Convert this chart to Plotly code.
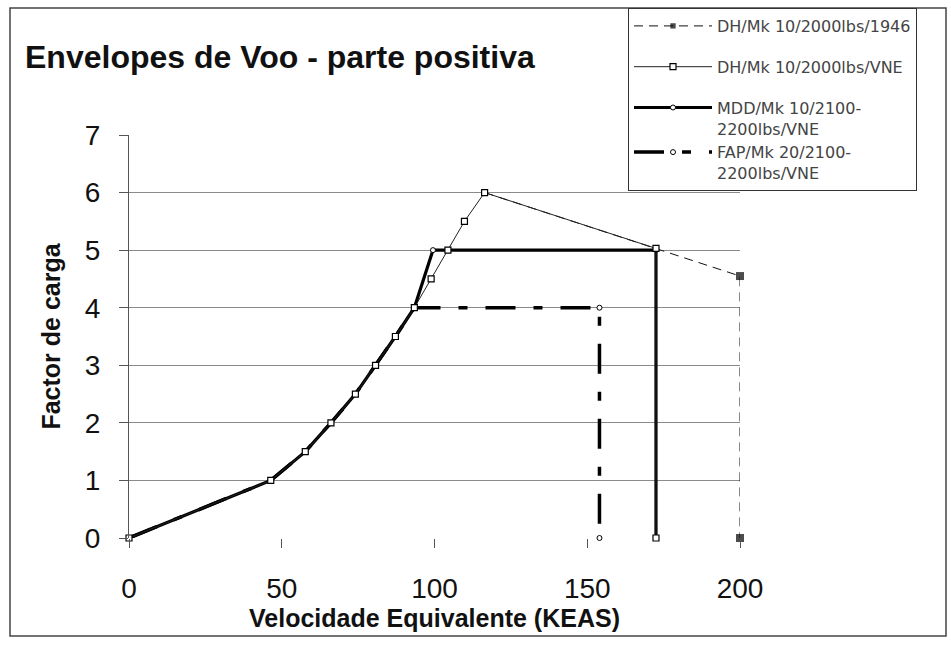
import plotly.graph_objects as go

# ---- data ----
dh1946_x = [116.4, 200, 200]
dh1946_y = [6, 4.55, 0]

dhvne_x = [0, 46.4, 57.7, 66.1, 74.1, 80.7, 87.2, 93.4, 98.9, 104.4, 109.8, 116.4, 172.5, 172.5]
dhvne_y = [0, 1, 1.5, 2, 2.5, 3, 3.5, 4, 4.5, 5, 5.5, 6, 5.03, 0]

mdd_x = [0, 46.4, 57.7, 66.1, 74.1, 80.7, 87.2, 93.4, 99.5, 172.5, 172.5]
mdd_y = [0, 1, 1.5, 2, 2.5, 3, 3.5, 4, 5, 5, 0]

fap_x = [0, 46.4, 57.7, 66.1, 74.1, 80.7, 87.2, 93.4, 154, 154]
fap_y = [0, 1, 1.5, 2, 2.5, 3, 3.5, 4, 4, 0]

names = [
    "DH/Mk 10/2000lbs/1946",
    "DH/Mk 10/2000lbs/VNE",
    "MDD/Mk 10/2100-<br>2200lbs/VNE",
    "FAP/Mk 20/2100-<br>2200lbs/VNE",
]
x_ticks = [0, 50, 100, 150, 200]
y_ticks = [0, 1, 2, 3, 4, 5, 6, 7]

title = "Envelopes de Voo - parte positiva"
x_title = "Velocidade Equivalente (KEAS)"
y_title = "Factor de carga"

FONT = "Liberation Sans, Arial, sans-serif"
LEGEND_FONT = "DejaVu Sans, Liberation Sans, sans-serif"

L, R, T, B = 129, 211, 135, 108
W, H = 951, 646
PW, PH = W - L - R, H - T - B

fig = go.Figure()

fig.add_trace(go.Scatter(
    x=dh1946_x, y=dh1946_y, name=names[0], mode="lines+markers",
    line=dict(color="#111", width=1, dash="9px,6px"),
    marker=dict(symbol="square", size=[0, 8, 8], color="#000", line=dict(width=0)),
    legendgroup="a", legendrank=1, cliponaxis=False,
))
fig.add_trace(go.Scatter(
    x=mdd_x, y=mdd_y, name=names[2], mode="lines+markers",
    line=dict(color="#000", width=3.2),
    marker=dict(symbol="circle", size=5, color="#fff", line=dict(color="#000", width=1)),
    legendgroup="c", legendrank=3, cliponaxis=False,
))
fig.add_trace(go.Scatter(
    x=fap_x, y=fap_y, name=names[3], mode="lines+markers",
    line=dict(color="#000", width=3.5, dash="30px,18px,9px,18px"),
    marker=dict(symbol="circle", size=5, color="#fff", line=dict(color="#000", width=1)),
    legendgroup="c", legendrank=4, cliponaxis=False,
))
fig.add_trace(go.Scatter(
    x=dhvne_x, y=dhvne_y, name=names[1], mode="lines+markers",
    line=dict(color="#222", width=1),
    marker=dict(symbol="square", size=6, color="#fff", line=dict(color="#000", width=1.2)),
    legendgroup="b", legendrank=2, cliponaxis=False,
))

# chart-area border
fig.add_shape(type="rect", xref="paper", yref="paper",
              x0=(10 - L) / PW, x1=(946 - L) / PW,
              y0=(T + PH - 636) / PH, y1=(T + PH - 8) / PH,
              line=dict(color="#444", width=1.5), fillcolor="rgba(0,0,0,0)", layer="below")

fig.update_layout(
    width=W, height=H,
    margin=dict(l=L, r=R, t=T, b=B, autoexpand=False),
    paper_bgcolor="white", plot_bgcolor="white",
    font=dict(family=FONT, color="#111"),
    showlegend=True,
    title=dict(text=title, x=25 / W, xanchor="left", y=1 - 57 / H, yanchor="middle",
               font=dict(family=FONT, size=32, color="#111", weight="bold")),
    legend=dict(
        x=(628 - L) / PW, y=(T + PH - 8) / PH, xanchor="left", yanchor="top",
        bgcolor="white", bordercolor="#333", borderwidth=1,
        font=dict(family=LEGEND_FONT, size=16, color="#444"),
        traceorder="grouped", tracegroupgap=17, itemwidth=78, valign="top",
    ),
    xaxis=dict(
        range=[0, 200], tickvals=x_ticks, ticktext=[str(v) for v in x_ticks],
        showgrid=False, zeroline=False, showline=False,
        ticks="outside", ticklen=9, tickcolor="#555", tickwidth=1,
        ticklabelstandoff=16,
        tickfont=dict(family=FONT, size=28, color="#111"),
        title=dict(text=x_title, standoff=2, font=dict(family=FONT, size=25, color="#111", weight="bold")),
    ),
    yaxis=dict(
        range=[0, 7], tickvals=y_ticks,
        showgrid=True, gridcolor="#8a8a8a", gridwidth=1,
        zeroline=False, showline=True, linecolor="#555", linewidth=1,
        ticks="outside", ticklen=9, tickcolor="#555", tickwidth=1,
        ticklabelstandoff=13,
        tickfont=dict(family=FONT, size=28, color="#111"),
        title=dict(text=y_title, standoff=17, font=dict(family=FONT, size=25, color="#111", weight="bold")),
    ),
)

fig.write_html("out.html", config={"displayModeBar": False},
               post_script="document.body.style.margin='0';")
